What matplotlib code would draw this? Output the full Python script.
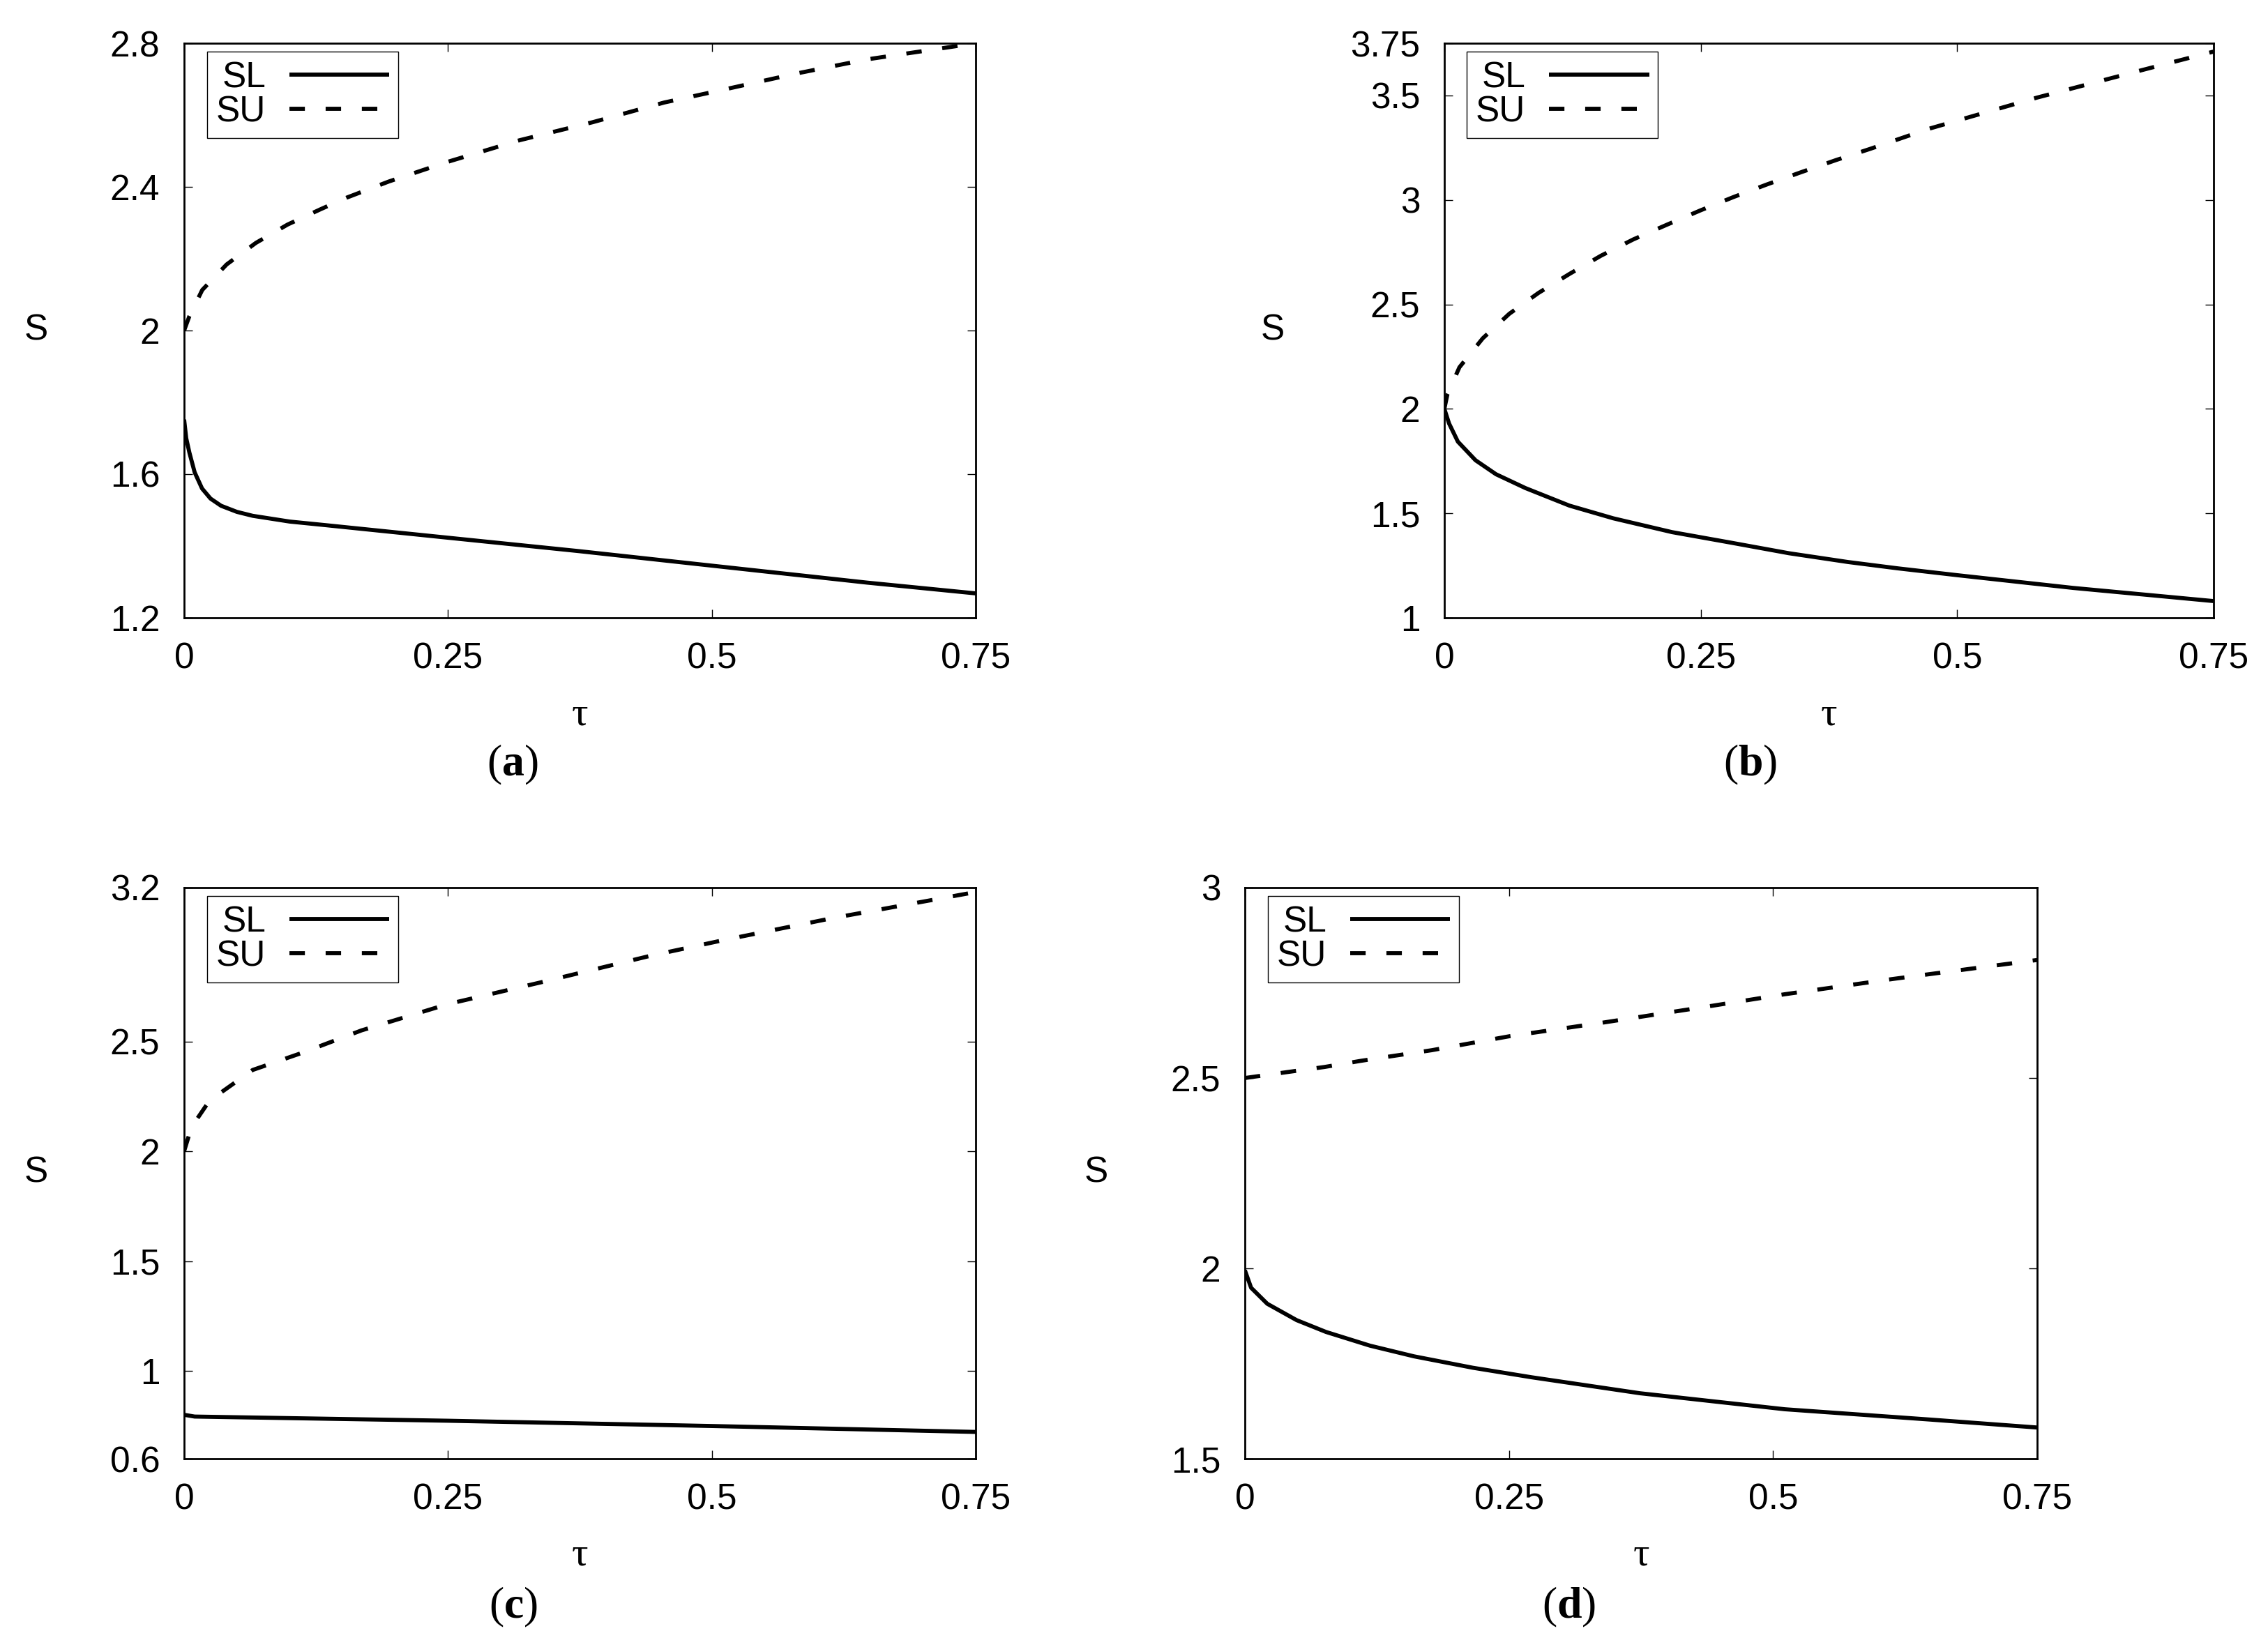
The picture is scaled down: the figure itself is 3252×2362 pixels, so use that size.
import matplotlib
matplotlib.use("Agg")
import matplotlib.pyplot as plt

# values
tau_ticks = [0, 0.25, 0.5, 0.75]
tau_tick_labels = ["0", "0.25", "0.5", "0.75"]

# (a)
a_su_tau = [0, 0.005, 0.0172, 0.0403, 0.068, 0.098, 0.1295, 0.154, 0.194, 0.25, 0.318, 0.387, 0.455, 0.51, 0.579, 0.647, 0.75]
a_su_s = [2.0, 2.04, 2.113, 2.184, 2.244, 2.295, 2.338, 2.37, 2.415, 2.47, 2.53, 2.58, 2.635, 2.67, 2.715, 2.755, 2.80]
a_sl_tau = [0, 0.002, 0.005, 0.01, 0.017, 0.025, 0.035, 0.05, 0.065, 0.1, 0.134, 0.25, 0.373, 0.51, 0.647, 0.75]
a_sl_s = [1.752, 1.70, 1.66, 1.605, 1.56, 1.532, 1.512, 1.495, 1.484, 1.468, 1.458, 1.423, 1.386, 1.342, 1.298, 1.268]
a_yticks = [1.2, 1.6, 2.0, 2.4, 2.8]
a_ytick_labels = ["1.2", "1.6", "2", "2.4", "2.8"]

# (b)
b_su_tau = [0, 0.003, 0.0147, 0.0375, 0.0633, 0.0918, 0.1224, 0.1527, 0.1842, 0.2168, 0.2497,
            0.282, 0.315, 0.348, 0.382, 0.4155, 0.472, 0.578, 0.683, 0.75]
b_su_s = [2.0, 2.07, 2.199, 2.338, 2.455, 2.555, 2.647, 2.733, 2.811, 2.881, 2.95,
          3.014, 3.075, 3.133, 3.191, 3.245, 3.34, 3.49, 3.625, 3.71]
b_sl_tau = [0, 0.0046, 0.0132, 0.0304, 0.0504, 0.079, 0.1219, 0.1648, 0.222, 0.279, 0.336,
            0.3935, 0.4416, 0.5, 0.613, 0.75]
b_sl_s = [2.0, 1.93, 1.843, 1.754, 1.687, 1.621, 1.537, 1.476, 1.41, 1.36, 1.309,
          1.267, 1.237, 1.204, 1.143, 1.08]
b_yticks = [1, 1.5, 2, 2.5, 3, 3.5, 3.75]
b_ytick_labels = ["1", "1.5", "2", "2.5", "3", "3.5", "3.75"]

# (c)
c_su_tau = [0, 0.007, 0.024, 0.065, 0.113, 0.168, 0.25, 0.339, 0.442, 0.51, 0.613, 0.75]
c_su_s = [2.0, 2.11, 2.23, 2.37, 2.45, 2.55, 2.67, 2.77, 2.89, 2.96, 3.06, 3.18]
c_sl_tau = [0, 0.01, 0.25, 0.5, 0.75]
c_sl_s = [0.80, 0.792, 0.773, 0.749, 0.722]
c_yticks = [0.6, 1, 1.5, 2, 2.5, 3.2]
c_ytick_labels = ["0.6", "1", "1.5", "2", "2.5", "3.2"]

# (d)
d_su_tau = [0, 0.0412, 0.0754, 0.1095, 0.1429, 0.1768, 0.251, 0.34, 0.443, 0.511, 0.613, 0.75]
d_su_s = [2.5, 2.516, 2.529, 2.545, 2.559, 2.573, 2.61, 2.646, 2.69, 2.72, 2.76, 2.81]
d_sl_tau = [0, 0.0059, 0.0212, 0.049, 0.0768, 0.1184, 0.16, 0.2157, 0.2713, 0.374, 0.511, 0.648, 0.75]
d_sl_s = [1.995, 1.949, 1.907, 1.864, 1.833, 1.797, 1.769, 1.739, 1.714, 1.672, 1.63, 1.603, 1.582]
d_yticks = [1.5, 2, 2.5, 3]
d_ytick_labels = ["1.5", "2", "2.5", "3"]

plt.rcParams["font.family"] = ["Liberation Sans", "DejaVu Sans"]
plt.rcParams["mathtext.fontset"] = "custom"
plt.rcParams["mathtext.rm"] = "Liberation Serif"
plt.rcParams["mathtext.bf"] = "Liberation Serif:bold"

W, H = 3252, 2362
fig = plt.figure(figsize=(W / 200, H / 200), dpi=200)

def px_rect(x0, y0, x1, y1):
    return [x0 / W, 1 - y1 / H, (x1 - x0) / W, (y1 - y0) / H]

panels = [
    # rect in px, data, ylim, ticks, S label x (px), panel label pos (px)
    dict(rect=px_rect(264, 62, 1399, 886), sl=(a_sl_tau, a_sl_s), su=(a_su_tau, a_su_s),
         ylim=(1.2, 2.8), yt=a_yticks, ytl=a_ytick_labels, sx=52, lab="a", lx=735, ly=1097),
    dict(rect=px_rect(2071, 62, 3174, 886), sl=(b_sl_tau, b_sl_s), su=(b_su_tau, b_su_s),
         ylim=(1, 3.75), yt=b_yticks, ytl=b_ytick_labels, sx=1825, lab="b", lx=2510, ly=1097),
    dict(rect=px_rect(264, 1273, 1399, 2092), sl=(c_sl_tau, c_sl_s), su=(c_su_tau, c_su_s),
         ylim=(0.6, 3.2), yt=c_yticks, ytl=c_ytick_labels, sx=52, lab="c", lx=736, ly=2305),
    dict(rect=px_rect(1785, 1273, 2921, 2092), sl=(d_sl_tau, d_sl_s), su=(d_su_tau, d_su_s),
         ylim=(1.5, 3), yt=d_yticks, ytl=d_ytick_labels, sx=1572, lab="d", lx=2250, ly=2305),
]

fs = 18.5
for p in panels:
    ax = fig.add_axes(p["rect"])
    ax.plot(*p["sl"], color="black", lw=2.1, label="SL", solid_capstyle="butt")
    su_line, = ax.plot(*p["su"], color="black", lw=2.1, label="SU", dash_capstyle="butt")
    su_line.set_dashes([3.8, 5.1])

    ax.set_xlim(0, 0.75)
    ax.set_ylim(*p["ylim"])
    ax.set_xticks(tau_ticks)
    ax.set_xticklabels(tau_tick_labels)
    ax.set_yticks(p["yt"])
    ax.set_yticklabels(p["ytl"])
    ax.tick_params(direction="in", top=True, right=True, length=4.3, width=0.5,
                   labelsize=fs, pad=12.5)
    for sp in ax.spines.values():
        sp.set_linewidth(1.0)

    # axis titles
    bbox = ax.get_position()
    fig.text(p["sx"] / W, (bbox.y0 + bbox.y1) / 2, "S", fontsize=fs, ha="center", va="center")
    ax.set_xlabel("τ", family=["Liberation Serif", "DejaVu Serif"], fontsize=21)
    ax.xaxis.set_label_coords(0.5, -0.169)
    ax.xaxis.label.set_va("center")

    leg = ax.legend(loc="upper left", bbox_to_anchor=(0.029, 0.985), borderaxespad=0,
                    markerfirst=False, fancybox=False, fontsize=fs, handlelength=2.8,
                    handletextpad=0.65, labelspacing=0.0, borderpad=0.25, framealpha=1)
    leg.get_frame().set_edgecolor("black")
    leg.get_frame().set_linewidth(0.5)

    fig.text(p["lx"] / W, 1 - p["ly"] / H, r"($\mathbf{%s}$)" % p["lab"],
             fontsize=23, ha="center", va="center", family=["Liberation Serif", "DejaVu Serif"])

fig.savefig("out.png", dpi=200)
